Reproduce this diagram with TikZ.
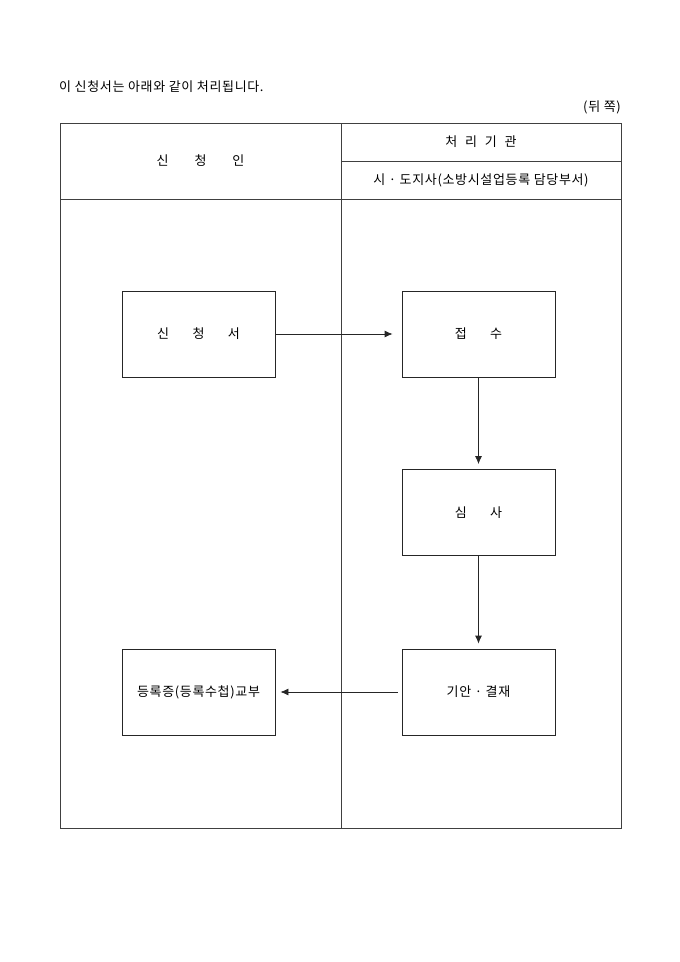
\documentclass[tikz,border=0pt]{standalone}
\usepackage{fontspec}
\setmainfont{Noto Sans CJK KR}[LetterSpace=5]
\usetikzlibrary{arrows.meta, positioning}

\begin{document}
\begin{tikzpicture}[x=1pt, y=-1pt,
    every node/.style={font=\fontsize{13}{15}\selectfont, inner sep=0pt},
    frame/.style={draw=black!75, line width=0.8pt},
    stepbox/.style={draw=black!85, line width=0.8pt, minimum width=153pt, minimum height=86pt},
    flow/.style={draw=black!85, line width=0.8pt, -{Latex[length=8pt, width=7pt]}}]
    \useasboundingbox (0,0) rectangle (680,962);
    % title
    \node[anchor=west] (title) at (59, 87) {이 신청서는 아래와 같이 처리됩니다.};
    \node[anchor=east] (side) at (621, 107) {(뒤 쪽)};
    % table
    \draw[frame] (60,123) rectangle (621,828);
    \draw[frame] (341,123) -- (341,828);
    \draw[frame] (60,199) -- (621,199);
    \draw[frame] (341,161) -- (621,161);
    \node (h1) at (200.5, 161) {신\hspace{2em}청\hspace{2em}인};
    \node (h2) at (481, 142) {처\hspace{0.6em}리\hspace{0.6em}기\hspace{0.6em}관};
    \node (h3) at (481, 180) {시 · 도지사(소방시설업등록 담당부서)};
    % boxes
    \node[stepbox] (apply) at (198.5, 334) {신\hspace{1.8em}청\hspace{1.8em}서};
    \node[stepbox] (recv) at (478.5, 334) {접\hspace{1.8em}수};
    \node[stepbox] (check) at (478.5, 512.5) {심\hspace{1.8em}사};
    \node[stepbox] (decide) at (478.5, 692) {기안 · 결재};
    \node[stepbox] (issue) at (198.5, 692) {등록증(등록수첩)교부};
    % arrows
    \draw[flow, shorten >=9pt] (apply) -- (recv);
    \draw[flow, shorten >=5pt] (recv) -- (check);
    \draw[flow, shorten >=5pt] (check) -- (decide);
    \draw[flow, shorten <=4pt, shorten >=5pt] (decide) -- (issue);
\end{tikzpicture}
\end{document}
